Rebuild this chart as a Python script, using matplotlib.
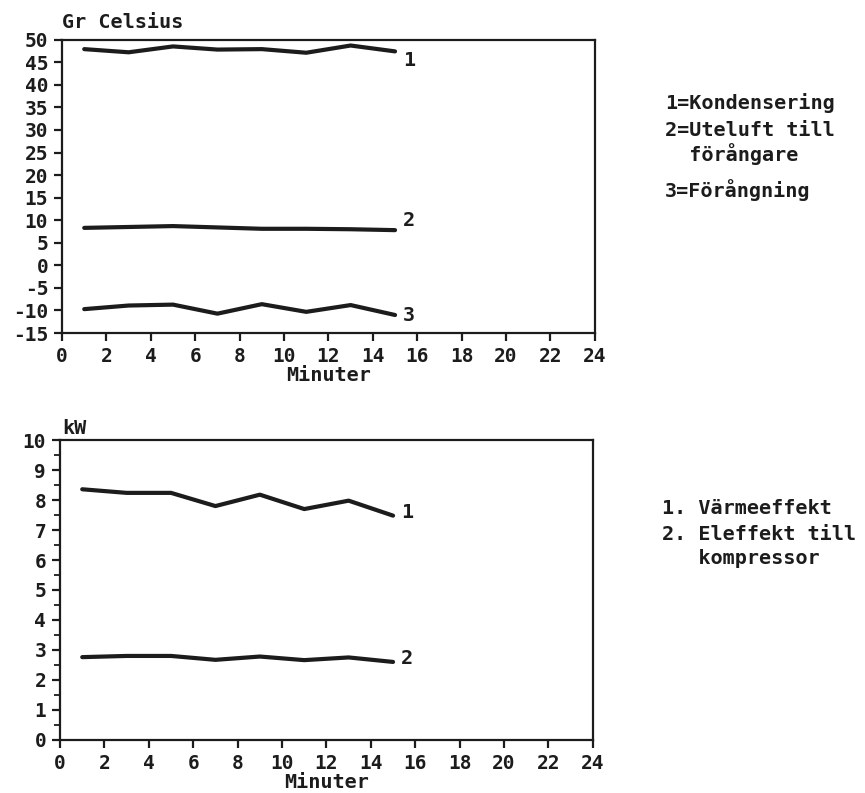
import numpy as np
import matplotlib.pyplot as plt
from matplotlib.ticker import MultipleLocator

# Mätpunkter var annan minut
minuter = [1, 3, 5, 7, 9, 11, 13, 15]

# Temperaturer, grader Celsius
kondensering = [47.9, 47.2, 48.5, 47.8, 47.9, 47.1, 48.7, 47.4]
uteluft = [8.3, 8.5, 8.7, 8.4, 8.1, 8.1, 8.0, 7.8]
forangning = [-9.7, -8.9, -8.7, -10.7, -8.6, -10.3, -8.8, -11.0]

# Effekter, kW
varmeeffekt = [8.36, 8.24, 8.24, 7.80, 8.18, 7.70, 7.98, 7.48]
eleffekt = [2.76, 2.80, 2.80, 2.67, 2.78, 2.66, 2.75, 2.60]

plt.rcParams['font.family'] = ['DejaVu Sans Mono']
plt.rcParams['font.weight'] = 'bold'
plt.rcParams['axes.unicode_minus'] = False
ink = '#1c1c1c'
fs = 14.5

fig = plt.figure(figsize=(8.65, 7.93), dpi=100)
ax1 = fig.add_axes([0.0717, 0.580, 0.616, 0.370])
ax2 = fig.add_axes([0.0694, 0.067, 0.616, 0.378])


def styla(ax):
    for s in ax.spines.values():
        s.set_linewidth(1.6)
        s.set_color(ink)
    ax.tick_params(direction='out', length=6, width=1.6, colors=ink,
                   labelsize=14, pad=4)
    ax.set_xlim(0, 24)
    ax.set_xticks(np.arange(0, 25, 2))
    ax.set_xlabel('Minuter', fontsize=fs, color=ink, labelpad=0,
                  fontweight='bold')


# Temperaturdiagram
lagen = {'1': 'top', '2': 'bottom', '3': 'center'}
for serie, namn in [(kondensering, '1'), (uteluft, '2'), (forangning, '3')]:
    ax1.plot(minuter, serie, color=ink, lw=3, solid_capstyle='round')
    ax1.text(minuter[-1] + 0.35, serie[-1], namn, fontsize=fs, color=ink,
             va=lagen[namn], ha='left')
styla(ax1)
ax1.set_ylim(-15, 50)
ax1.set_yticks(np.arange(-15, 51, 5))
fig.text(0.0717, 0.972, 'Gr Celsius', fontsize=fs, color=ink, ha='left',
         va='center')

# Effektdiagram
for serie, namn in [(varmeeffekt, '1'), (eleffekt, '2')]:
    ax2.plot(minuter, serie, color=ink, lw=3, solid_capstyle='round')
    ax2.text(minuter[-1] + 0.35, serie[-1] + 0.12, namn, fontsize=fs,
             color=ink, va='center', ha='left')
styla(ax2)
ax2.set_ylim(0, 10)
ax2.set_yticks(np.arange(0, 11, 1))
ax2.yaxis.set_minor_locator(MultipleLocator(0.5))
ax2.tick_params(which='minor', direction='out', length=4, width=1.3, colors=ink)
fig.text(0.0717, 0.460, 'kW', fontsize=fs, color=ink, ha='left', va='center')


# Förklaringar
def rad(x, y, s):
    fig.text(x / 865, 1 - y / 793, s, fontsize=fs, color=ink, va='center')


rad(665, 103, '1=Kondensering')
rad(665, 131, '2=Uteluft till')
rad(665, 154, '  förångare')
rad(665, 190, '3=Förångning')

rad(662, 508, '1. Värmeeffekt')
rad(662, 534, '2. Eleffekt till')
rad(662, 558, '   kompressor')

fig.savefig('out.png', dpi=100, facecolor='white')
